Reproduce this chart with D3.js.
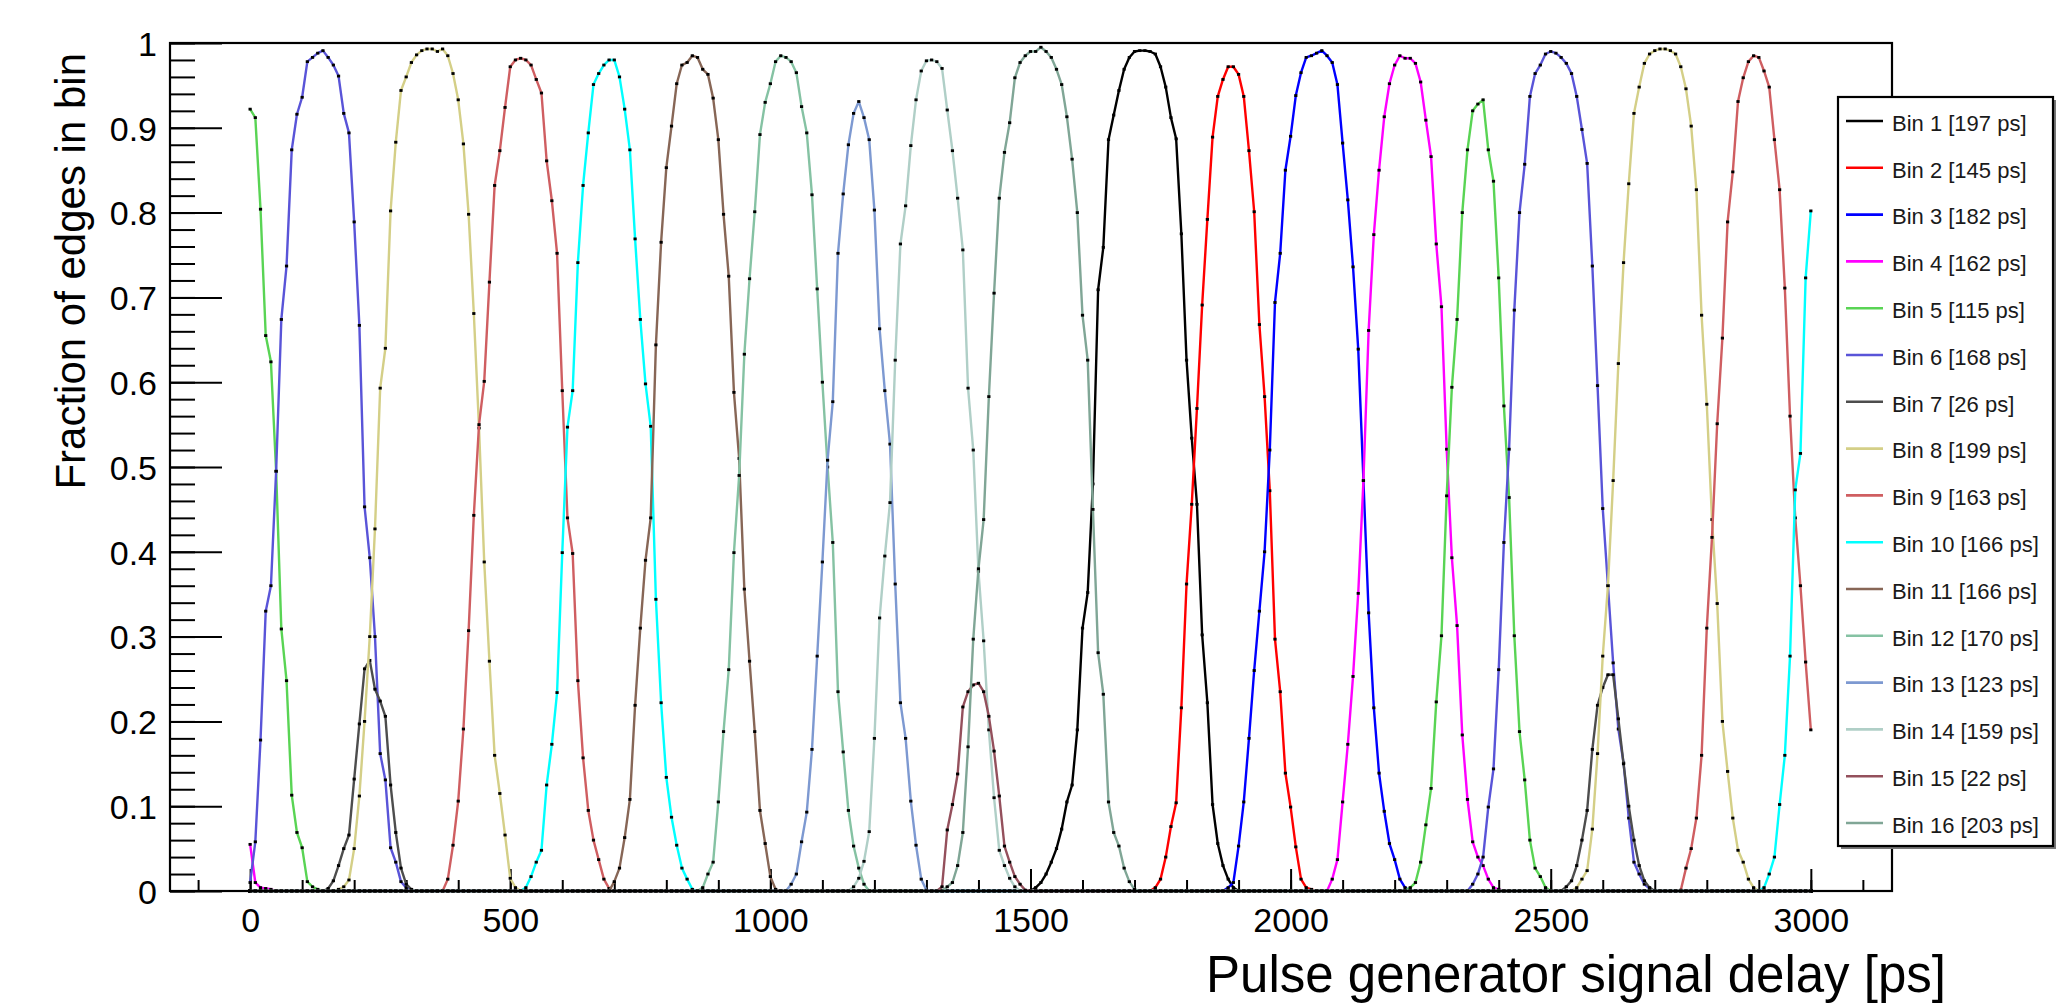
<!DOCTYPE html>
<html lang="en">
<head>
    <meta charset="UTF-8">
    <title>Fraction of edges in bin</title>
    <script src="https://d3js.org/d3.v7.min.js"></script>
    <style>
        body { margin: 0; background: #fff; }
        text { font-family: "Liberation Sans", Arial, sans-serif; fill: #000; }
    </style>
</head>
<body>
    <svg width="2069" height="1006"></svg>

    <script>
        // delay scan: one point every 10 ps from 0 to 3000 ps
        const delayStep = 10;
        const delayMax = 3000;

        // each bin: [first delay in ps, fractions]; all other delays are 0
        const bin1 = [[1510, [0.004, 0.01, 0.02, 0.034, 0.05, 0.073, 0.105, 0.125, 0.19, 0.31, 0.352, 0.48, 0.709, 0.759, 0.886, 0.915, 0.944, 0.969, 0.983, 0.99, 0.991, 0.991, 0.99, 0.987, 0.972, 0.948, 0.912, 0.887, 0.775, 0.626, 0.534, 0.456, 0.302, 0.222, 0.102, 0.056, 0.03, 0.014, 0.004]]];
        const bin2 = [[1740, [0.004, 0.014, 0.04, 0.076, 0.104, 0.216, 0.362, 0.456, 0.569, 0.691, 0.792, 0.889, 0.937, 0.957, 0.972, 0.972, 0.963, 0.937, 0.873, 0.801, 0.668, 0.583, 0.472, 0.297, 0.235, 0.139, 0.099, 0.052, 0.014, 0.004, 0.002]]];
        const bin3 = [[1880, [0.004, 0.01, 0.053, 0.105, 0.18, 0.26, 0.33, 0.40, 0.52, 0.694, 0.752, 0.85, 0.89, 0.938, 0.965, 0.983, 0.985, 0.988, 0.991, 0.985, 0.977, 0.951, 0.882, 0.815, 0.736, 0.639, 0.484, 0.328, 0.216, 0.139, 0.094, 0.056, 0.037, 0.014, 0.004]]];
        const bin4 = [[0, [0.055, 0.01, 0.004, 0.003, 0.002]],
                      [2080, [0.014, 0.037, 0.105, 0.173, 0.253, 0.351, 0.484, 0.661, 0.774, 0.85, 0.913, 0.952, 0.974, 0.985, 0.982, 0.982, 0.976, 0.954, 0.909, 0.866, 0.763, 0.689, 0.521, 0.393, 0.313, 0.184, 0.108, 0.058, 0.04, 0.03, 0.014, 0.004, 0.002]]];
        const bin5 = [[0, [0.922, 0.912, 0.804, 0.655, 0.624, 0.495, 0.309, 0.248, 0.113, 0.069, 0.051, 0.011, 0.005, 0.002]],
                      [2230, [0.004, 0.01, 0.034, 0.078, 0.121, 0.223, 0.301, 0.466, 0.594, 0.674, 0.8, 0.874, 0.92, 0.928, 0.933, 0.874, 0.837, 0.723, 0.572, 0.464, 0.301, 0.188, 0.131, 0.06, 0.027, 0.017, 0.004]]];
        const bin6 = [[0, [0.01, 0.058, 0.178, 0.33, 0.36, 0.495, 0.674, 0.737, 0.874, 0.916, 0.936, 0.978, 0.983, 0.988, 0.991, 0.983, 0.974, 0.961, 0.917, 0.894, 0.789, 0.667, 0.453, 0.393, 0.30, 0.162, 0.131, 0.051, 0.034, 0.011, 0.004]],
                      [2350, [0.008, 0.02, 0.04, 0.099, 0.144, 0.261, 0.411, 0.521, 0.685, 0.8, 0.857, 0.937, 0.964, 0.974, 0.987, 0.99, 0.988, 0.983, 0.976, 0.964, 0.937, 0.898, 0.858, 0.737, 0.596, 0.451, 0.36, 0.269, 0.191, 0.151, 0.086, 0.034, 0.02, 0.008, 0.003]]];
        const bin7 = [[150, [0.003, 0.012, 0.03, 0.05, 0.066, 0.132, 0.197, 0.262, 0.272, 0.238, 0.224, 0.206, 0.125, 0.069, 0.027, 0.008, 0.002]],
                      [2530, [0.005, 0.012, 0.03, 0.06, 0.095, 0.167, 0.219, 0.24, 0.255, 0.255, 0.203, 0.15, 0.1, 0.06, 0.03, 0.012, 0.004]]];
        const bin8 = [[170, [0.002, 0.005, 0.013, 0.05, 0.112, 0.20, 0.30, 0.427, 0.593, 0.64, 0.802, 0.883, 0.944, 0.96, 0.977, 0.986, 0.991, 0.993, 0.993, 0.99, 0.993, 0.985, 0.964, 0.933, 0.881, 0.798, 0.681, 0.546, 0.388, 0.271, 0.16, 0.115, 0.066, 0.015, 0.004]],
                      [2550, [0.004, 0.014, 0.024, 0.073, 0.162, 0.277, 0.36, 0.484, 0.622, 0.741, 0.834, 0.917, 0.948, 0.976, 0.987, 0.991, 0.993, 0.993, 0.991, 0.987, 0.972, 0.946, 0.902, 0.827, 0.679, 0.574, 0.438, 0.339, 0.2, 0.141, 0.086, 0.048, 0.034, 0.014, 0.004]]];
        const bin9 = [[380, [0.014, 0.054, 0.106, 0.191, 0.307, 0.443, 0.55, 0.601, 0.718, 0.832, 0.873, 0.924, 0.972, 0.98, 0.982, 0.98, 0.974, 0.957, 0.941, 0.861, 0.814, 0.752, 0.59, 0.44, 0.398, 0.248, 0.157, 0.095, 0.06, 0.037, 0.014, 0.003]],
                      [2750, [0.001, 0.027, 0.05, 0.086, 0.16, 0.31, 0.417, 0.551, 0.652, 0.789, 0.848, 0.931, 0.959, 0.978, 0.985, 0.983, 0.967, 0.948, 0.886, 0.827, 0.711, 0.56, 0.44, 0.36, 0.27, 0.19]]];
        const bin10 = [[530, [0.004, 0.017, 0.034, 0.048, 0.125, 0.173, 0.234, 0.399, 0.547, 0.59, 0.741, 0.832, 0.894, 0.951, 0.964, 0.974, 0.98, 0.98, 0.96, 0.922, 0.874, 0.769, 0.674, 0.598, 0.548, 0.344, 0.222, 0.134, 0.087, 0.054, 0.027, 0.014, 0.002]],
                       [2910, [0.004, 0.02, 0.04, 0.102, 0.16, 0.277, 0.473, 0.516, 0.723, 0.802]]];
        const bin11 = [[700, [0.011, 0.027, 0.063, 0.108, 0.219, 0.31, 0.39, 0.44, 0.644, 0.765, 0.853, 0.902, 0.952, 0.974, 0.977, 0.985, 0.983, 0.969, 0.963, 0.935, 0.886, 0.798, 0.725, 0.588, 0.51, 0.356, 0.271, 0.188, 0.095, 0.056, 0.017, 0.002]]];
        const bin12 = [[870, [0.004, 0.02, 0.034, 0.105, 0.188, 0.261, 0.399, 0.49, 0.633, 0.722, 0.801, 0.892, 0.93, 0.952, 0.978, 0.985, 0.983, 0.978, 0.965, 0.925, 0.894, 0.821, 0.71, 0.6, 0.5, 0.411, 0.235, 0.164, 0.095, 0.053, 0.027, 0.008]]];
        const bin13 = [[1040, [0.008, 0.02, 0.058, 0.093, 0.167, 0.277, 0.388, 0.508, 0.577, 0.752, 0.822, 0.88, 0.917, 0.931, 0.912, 0.886, 0.803, 0.663, 0.59, 0.527, 0.362, 0.222, 0.18, 0.106, 0.054, 0.014, 0.001]]];
        const bin14 = [[1160, [0.005, 0.015, 0.035, 0.07, 0.18, 0.322, 0.395, 0.458, 0.626, 0.763, 0.808, 0.879, 0.933, 0.967, 0.979, 0.98, 0.978, 0.97, 0.921, 0.873, 0.817, 0.756, 0.593, 0.52, 0.377, 0.295, 0.19, 0.11, 0.048, 0.03, 0.015, 0.005]]];
        const bin15 = [[1330, [0.005, 0.072, 0.102, 0.138, 0.217, 0.235, 0.243, 0.245, 0.235, 0.206, 0.165, 0.112, 0.053, 0.034, 0.017, 0.008, 0.001]]];
        const bin16 = [[1340, [0.005, 0.01, 0.03, 0.069, 0.17, 0.297, 0.38, 0.438, 0.583, 0.705, 0.817, 0.871, 0.906, 0.959, 0.977, 0.985, 0.99, 0.99, 0.995, 0.99, 0.983, 0.969, 0.951, 0.913, 0.863, 0.80, 0.679, 0.626, 0.45, 0.281, 0.232, 0.105, 0.069, 0.053, 0.027, 0.011, 0.002]]];

        const binData = [bin1, bin2, bin3, bin4, bin5, bin6, bin7, bin8, bin9, bin10, bin11, bin12, bin13, bin14, bin15, bin16];
        const binWidths = [197, 145, 182, 162, 115, 168, 26, 199, 163, 166, 166, 170, 123, 159, 22, 203];
        const binColors = ["#000000", "#ff0000", "#0000ff", "#ff00ff", "#59d454", "#5954d8", "#4d4d4d", "#d4cf87",
                           "#cf5e61", "#00ffff", "#876656", "#85c2a3", "#7d99d1", "#b0cfc7", "#94505c", "#80a696"];

        const xTicks = [0, 500, 1000, 1500, 2000, 2500, 3000];
        const yTicks = [0, 0.1, 0.2, 0.3, 0.4, 0.5, 0.6, 0.7, 0.8, 0.9, 1];

        const svg = d3.select("svg");

        // frame geometry
        const frameLeft = 170, frameRight = 1892, frameTop = 43, frameBottom = 891;

        const xScale = d3.scaleLinear().domain([-154, 3156]).range([frameLeft, frameRight]);
        const yScale = d3.scaleLinear().domain([0, 1]).range([frameBottom, frameTop]);

        // full series on the scan grid
        const grid = d3.range(0, delayMax + 1, delayStep);
        const series = binData.map((segs, i) => {
            const vals = new Map();
            segs.forEach(([start, v]) => v.forEach((val, j) => vals.set(start + j * delayStep, val)));
            return {
                name: `Bin ${i + 1} [${binWidths[i]} ps]`,
                color: binColors[i],
                points: grid.map(d => ({ x: d, y: vals.get(d) || 0 }))
            };
        });

        // minor ticks
        svg.append("g")
            .attr("transform", `translate(${frameLeft},0)`)
            .call(d3.axisLeft(yScale).tickValues(d3.range(0, 1.001, 0.02)).tickSize(-25).tickFormat(""))
            .call(g => g.select(".domain").remove())
            .selectAll("line").attr("stroke-width", 2);

        svg.append("g")
            .attr("transform", `translate(0,${frameBottom})`)
            .call(d3.axisBottom(xScale).tickValues(d3.range(-100, 3101, 100)).tickSize(-11).tickFormat(""))
            .call(g => g.select(".domain").remove())
            .selectAll("line").attr("stroke-width", 2);

        // major ticks and labels
        const yAxis = svg.append("g")
            .attr("transform", `translate(${frameLeft},0)`)
            .call(d3.axisLeft(yScale).tickValues(yTicks).tickSize(-52).tickPadding(13).tickFormat(d3.format("~g")));
        yAxis.select(".domain").remove();
        yAxis.selectAll("line").attr("stroke-width", 2);
        yAxis.selectAll("text").style("font-size", "34px").attr("dy", "0.36em")
            .style("font-family", "'Liberation Sans', Arial, sans-serif");

        const xAxis = svg.append("g")
            .attr("transform", `translate(0,${frameBottom})`)
            .call(d3.axisBottom(xScale).tickValues(xTicks).tickSize(-22).tickPadding(17).tickFormat(d3.format("d")));
        xAxis.select(".domain").remove();
        xAxis.selectAll("line").attr("stroke-width", 2);
        xAxis.selectAll("text").style("font-size", "34px")
            .style("font-family", "'Liberation Sans', Arial, sans-serif");

        // curves with their markers
        const line = d3.line().x(d => xScale(d.x)).y(d => yScale(d.y));
        series.forEach(s => {
            svg.append("path")
                .datum(s.points)
                .attr("fill", "none")
                .attr("stroke", s.color)
                .attr("stroke-width", 2.4)
                .attr("stroke-linejoin", "round")
                .attr("d", line);
            svg.append("g").selectAll("rect")
                .data(s.points)
                .join("rect")
                .attr("x", d => xScale(d.x) - 1.6)
                .attr("y", d => yScale(d.y) - 1.4)
                .attr("width", 3.2)
                .attr("height", 2.8)
                .attr("fill", "#000");
        });

        // frame
        svg.append("rect")
            .attr("x", frameLeft).attr("y", frameTop)
            .attr("width", frameRight - frameLeft).attr("height", frameBottom - frameTop)
            .attr("fill", "none").attr("stroke", "#000").attr("stroke-width", 2.2);

        // axis titles
        svg.append("text")
            .attr("transform", `translate(85,53) rotate(-90)`)
            .attr("text-anchor", "end")
            .style("font-size", "42px")
            .text("Fraction of edges in bin");

        svg.append("text")
            .attr("x", 1946).attr("y", 992)
            .attr("text-anchor", "end")
            .style("font-size", "51px")
            .text("Pulse generator signal delay [ps]");

        // legend
        const legX = 1838, legY = 97, legW = 215, legH = 749, rowH = 46.8;
        svg.append("rect")
            .attr("x", legX + 3).attr("y", legY + 3)
            .attr("width", legW).attr("height", legH)
            .attr("fill", "#777");
        svg.append("rect")
            .attr("x", legX).attr("y", legY)
            .attr("width", legW).attr("height", legH)
            .attr("fill", "#fff").attr("stroke", "#000").attr("stroke-width", 2.2);

        const rows = svg.append("g").selectAll("g")
            .data(series)
            .join("g")
            .attr("transform", (d, i) => `translate(${legX},${legY + 24 + i * rowH})`);
        rows.append("line")
            .attr("x1", 8).attr("x2", 45)
            .attr("stroke", d => d.color)
            .attr("stroke-width", 2.6);
        rows.append("text")
            .attr("x", 54).attr("y", 2)
            .attr("dy", "0.35em")
            .style("font-size", "22px")
            .style("fill", "#1a1a1a")
            .text(d => d.name);
    </script>
</body>
</html>
